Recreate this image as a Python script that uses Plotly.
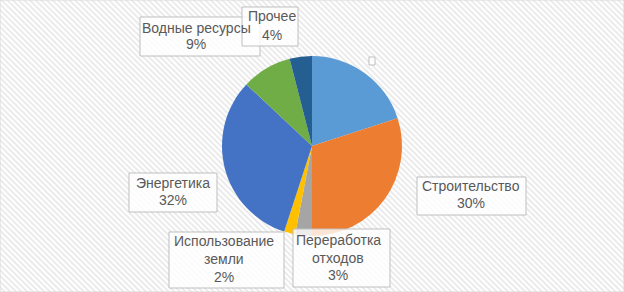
import base64
import plotly.graph_objects as go

# Data
categories = ["", "Строительство", "Переработка отходов", "Использование земли",
              "Энергетика", "Водные ресурсы", "Прочее"]
values = [20, 30, 3, 2, 32, 9, 4]
label_lines = [[], ["Строительство", "30%"], ["Переработка", "отходов", "3%"],
               ["Использование", "земли", "2%"], ["Энергетика", "32%"],
               ["Водные ресурсы", "9%"], ["Прочее", "4%"]]
colors = ["#5B9BD5", "#ED7D31", "#A5A5A5", "#FFC000", "#4472C4", "#70AD47", "#255E91"]

W, H = 624, 292
cx, cy, r = 312, 146, 90

# label boxes (x0, y0, x1, y1 px), text centre x and line y positions (px)
label_boxes = [
    (369, 57, 375, 65),
    (417, 177, 526, 215),
    (293, 229, 390, 287),
    (169, 232, 284, 288),
    (129, 173, 217, 212),
    (140, 17, 260, 56),
    (242, 7, 298, 46),
]
label_x = [372, 471, 338, 224, 173, 196, 272]
label_y = [[], [186, 203], [240, 258, 275], [241, 259, 277], [183, 200], [28, 44], [16, 35]]

FONT = "Liberation Sans, Arial, sans-serif"

fig = go.Figure()
fig.add_trace(go.Pie(
    labels=categories, values=values, sort=False, direction="clockwise",
    rotation=0, textinfo="none", hoverinfo="label+percent",
    marker=dict(colors=colors, line=dict(width=0)),
    domain=dict(x=[(cx - r) / W, (cx + r) / W], y=[1 - (cy + r) / H, 1 - (cy - r) / H]),
    showlegend=False,
))

shapes = []
for (x0, y0, x1, y1) in label_boxes:
    shapes.append(dict(type="rect", xref="paper", yref="paper",
                       x0=x0 / W, x1=x1 / W, y0=1 - y1 / H, y1=1 - y0 / H,
                       fillcolor="rgba(255,255,255,0.8)", line=dict(color="#BFBFBF", width=1),
                       layer="above"))

for lines, lx, ys in zip(label_lines, label_x, label_y):
    for t, ly in zip(lines, ys):
        fig.add_annotation(
            x=lx / W, y=1 - ly / H, xref="paper", yref="paper",
            xanchor="center", yanchor="middle", showarrow=False, text=t,
            font=dict(family=FONT, size=14, color="#595959"),
        )

svg = (f'<svg xmlns="http://www.w3.org/2000/svg" width="{W}" height="{H}">'
       '<defs><pattern id="p" width="4" height="4" patternUnits="userSpaceOnUse" '
       'patternTransform="rotate(-45)"><rect width="2" height="4" fill="#ebebeb"/></pattern></defs>'
       f'<rect width="{W}" height="{H}" fill="white"/><rect width="{W}" height="{H}" fill="url(#p)"/></svg>')
src = "data:image/svg+xml;base64," + base64.b64encode(svg.encode()).decode()

shapes.append(dict(type="rect", xref="paper", yref="paper", x0=0, y0=0, x1=1, y1=1,
                   line=dict(color="#D9D9D9", width=1), layer="above"))

fig.update_layout(
    width=W, height=H, margin=dict(l=0, r=0, t=0, b=0),
    paper_bgcolor="white", plot_bgcolor="white",
    images=[dict(source=src, xref="paper", yref="paper", x=0, y=1, sizex=1, sizey=1,
                 sizing="stretch", layer="below", xanchor="left", yanchor="top")],
    shapes=shapes,
)

fig.write_html("out.html", config={"displayModeBar": False},
               post_script="document.body.style.margin='0';document.body.style.overflow='hidden';")
